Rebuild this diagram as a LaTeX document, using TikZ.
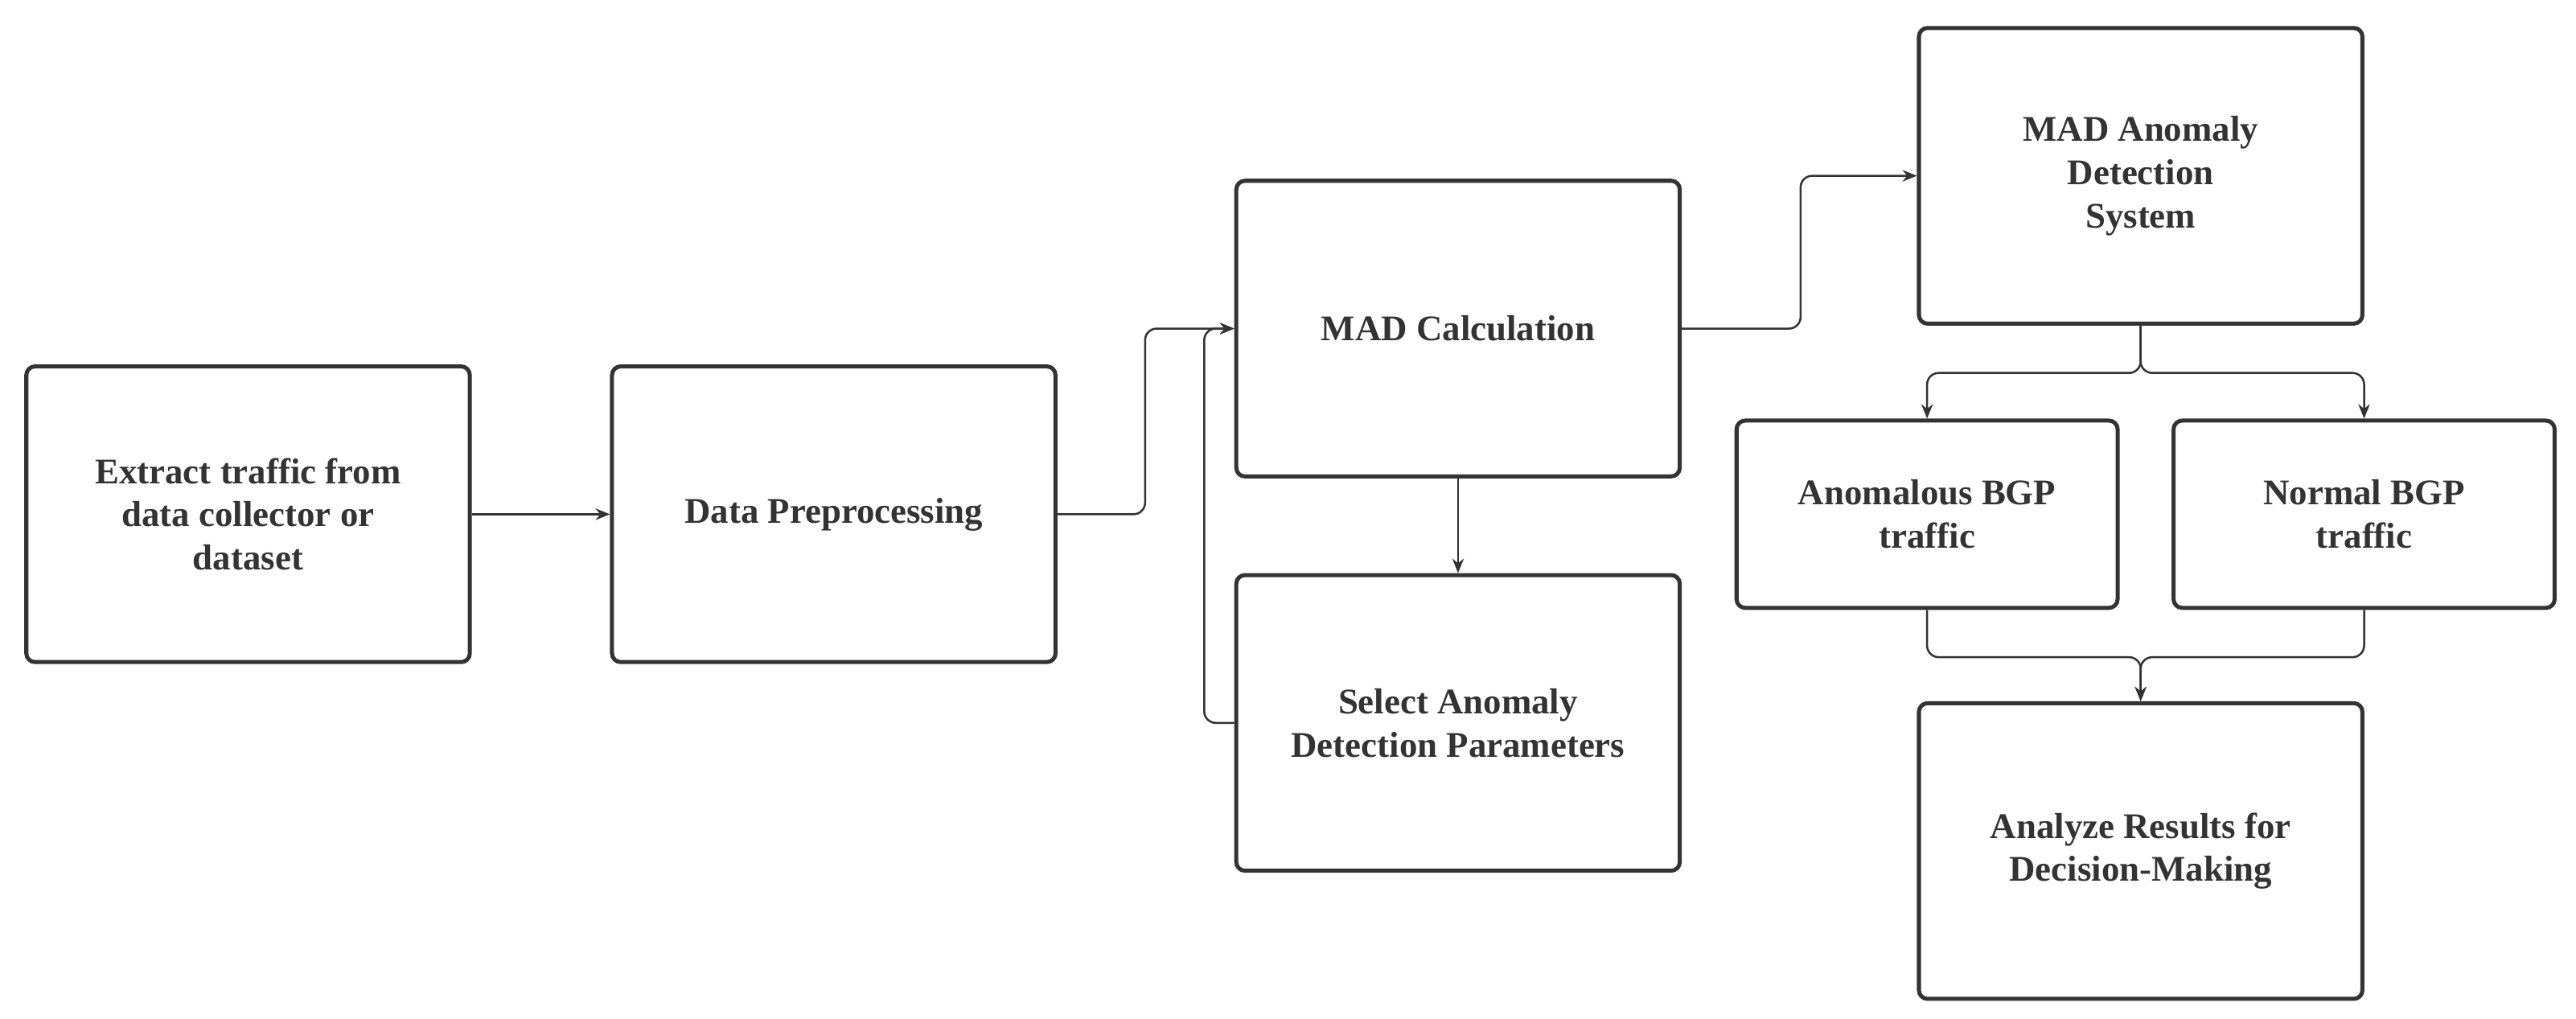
\documentclass[tikz,border=0pt]{standalone}
\usepackage{fontspec}
\setmainfont{Liberation Serif}
\usetikzlibrary{arrows.meta}
\definecolor{ink}{HTML}{333333}
\begin{document}
\begin{tikzpicture}[x=0.02cm,y=-0.02cm,
box/.style={draw=ink, line width=1.4pt, rounded corners=3pt, text=ink,
 align=center, font=\fontsize{12.5}{15}\selectfont\bfseries,
 minimum width=5.4cm, minimum height=3.6cm, inner sep=2pt},
sbox/.style={box, minimum width=4.64cm, minimum height=2.28cm},
link/.style={draw=ink, line width=0.7pt, rounded corners=4pt, -{Stealth[length=5pt,width=4pt]}}
]
\useasboundingbox (0,0) rectangle (1568,620);
\node[box] (extract) at (151,313) {Extract traffic from\\data collector or\\dataset};
\node[box] (prep) at (507.5,313) {Data Preprocessing};
\node[box] (mad) at (887.5,200) {MAD Calculation};
\node[box] (param) at (887.5,440) {Select Anomaly\\Detection Parameters};
\node[box] (system) at (1303,107) {MAD Anomaly\\Detection\\System};
\node[sbox] (anom) at (1173,313) {Anomalous BGP\\traffic};
\node[sbox] (normal) at (1439,313) {Normal BGP\\traffic};
\node[box] (analyze) at (1303,518) {Analyze Results for\\Decision-Making};

\draw[link] (extract) -- (prep);
\draw[link] (prep.east) -| (697,250) |- (mad.west);
\draw[link] (param.west) -| (733,250) |- (mad.west);
\draw[link] (mad) -- (param);
\draw[link] (mad.east) -| (1096,150) |- (system.west);
\draw[link] (system.south) |- (1240,227) -| (anom.north);
\draw[link] (system.south) |- (1370,227) -| (normal.north);
\draw[link] (anom.south) |- (1240,400) -| (analyze.north);
\draw[link] (normal.south) |- (1370,400) -| (analyze.north);
\end{tikzpicture}
\end{document}
